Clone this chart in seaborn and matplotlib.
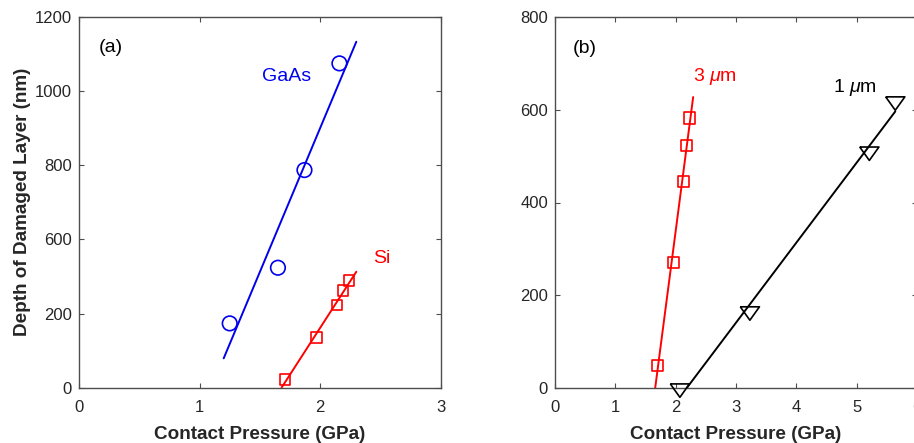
import numpy as np
import matplotlib
matplotlib.use("Agg")
import matplotlib.pyplot as plt
import seaborn as sns

# ---------------- data ----------------
# panel (a)
gaas_pressure = [1.25, 1.65, 1.87, 2.16]
gaas_depth = [208, 388, 704, 1049]
gaas_fit_pressure = [1.20, 2.30]
gaas_fit_depth = [95, 1119]

si_pressure = [1.71, 1.97, 2.14, 2.19, 2.24]
si_depth = [27, 162, 268, 314, 346]
si_fit_pressure = [1.68, 2.30]
si_fit_depth = [0, 375]

a_ytick_labels = ["0", "200", "600", "800", "1000", "1200"]
a_xtick_labels = ["0", "1", "2", "3"]

# panel (b)
um3_pressure = [1.70, 1.97, 2.13, 2.18, 2.23]
um3_depth = [49, 271, 445, 523, 582]
um3_fit_pressure = [1.66, 2.29]
um3_fit_depth = [0, 627]

um1_pressure = [2.07, 3.23, 5.21, 5.64]
um1_depth = [-5, 161, 505, 613]
um1_fit_pressure = [2.18, 5.64]
um1_fit_depth = [0, 596]

b_ytick_labels = ["0", "200", "400", "600", "800"]
b_xtick_labels = ["0", "1", "2", "3", "4", "5", "6"]

# ---------------- style ----------------
sns.set_theme(style="ticks")
plt.rcParams["font.family"] = ["Liberation Sans", "DejaVu Sans"]
plt.rcParams["mathtext.fontset"] = "custom"
plt.rcParams["mathtext.it"] = "Liberation Sans:italic"
plt.rcParams["mathtext.rm"] = "Liberation Sans"

AX_COLOR = "#262626"
SPINE_COLOR = "#4d4d4d"
BLUE = "#0000ee"
RED = "#ff0000"

fig = plt.figure(figsize=(9.14, 4.43), dpi=100)
ax_a = fig.add_axes([79 / 914, 1 - 387.7 / 443, 361.7 / 914, 371 / 443])
ax_b = fig.add_axes([555 / 914, 1 - 388.3 / 443, 362 / 914, 371.6 / 443])

tri = [(-1, 0.7), (1, 0.7), (0, -0.7), (-1, 0.7)]


def style_axes(ax):
    for s in ax.spines.values():
        s.set_visible(True)
        s.set_color(SPINE_COLOR)
        s.set_linewidth(1.0)
    ax.tick_params(direction="in", length=3.5, width=0.8, color=SPINE_COLOR,
                   top=True, right=True, labelsize=12, labelcolor=AX_COLOR)
    ax.tick_params(axis="x", pad=8.5)
    ax.tick_params(axis="y", pad=5)


# ---------------- panel (a) ----------------
sns.lineplot(x=gaas_fit_pressure, y=gaas_fit_depth, color=BLUE, lw=1.4, ax=ax_a)
sns.scatterplot(x=gaas_pressure, y=gaas_depth, marker="o", s=10.5 ** 2,
                facecolor="none", edgecolor=BLUE, linewidth=1.2, ax=ax_a, zorder=3)
sns.lineplot(x=si_fit_pressure, y=si_fit_depth, color=RED, lw=1.4, ax=ax_a)
sns.scatterplot(x=si_pressure, y=si_depth, marker="s", s=7.6 ** 2,
                facecolor="none", edgecolor=RED, linewidth=1.2, ax=ax_a, zorder=3)

ax_a.set_xlim(0, 3)
ax_a.set_ylim(0, 1200)
ax_a.set_xticks(np.arange(len(a_xtick_labels)))
ax_a.set_xticklabels(a_xtick_labels)
ax_a.set_yticks(np.linspace(0, 1200, len(a_ytick_labels)))
ax_a.set_yticklabels(a_ytick_labels)
style_axes(ax_a)
ax_a.set_xlabel("Contact Pressure (GPa)", fontsize=13.6, fontweight="bold",
                color=AX_COLOR, labelpad=8)
ax_a.set_ylabel("Depth of Damaged Layer (nm)", fontsize=13.6, fontweight="bold",
                color=AX_COLOR, labelpad=3)
ax_a.text(0.265, 1101, "(a)", fontsize=14, color="black", ha="center", va="center")
ax_a.text(1.72, 1008, "GaAs", fontsize=14, color=BLUE, ha="center", va="center")
ax_a.text(2.51, 418, "Si", fontsize=14, color=RED, ha="center", va="center")

# ---------------- panel (b) ----------------
sns.lineplot(x=um3_fit_pressure, y=um3_fit_depth, color=RED, lw=1.4, ax=ax_b)
sns.scatterplot(x=um3_pressure, y=um3_depth, marker="s", s=8 ** 2,
                facecolor="none", edgecolor=RED, linewidth=1.2, ax=ax_b, zorder=3)
sns.lineplot(x=um1_fit_pressure, y=um1_fit_depth, color="black", lw=1.4, ax=ax_b)
sns.scatterplot(x=um1_pressure, y=um1_depth, marker=tri, s=13.8 ** 2,
                facecolor="none", edgecolor="black", linewidth=1.2, ax=ax_b, zorder=3,
                clip_on=False)

ax_b.set_xlim(0, 6)
ax_b.set_ylim(0, 800)
ax_b.set_xticks(np.arange(len(b_xtick_labels)))
ax_b.set_xticklabels(b_xtick_labels)
ax_b.set_yticks(np.linspace(0, 800, len(b_ytick_labels)))
ax_b.set_yticklabels(b_ytick_labels)
style_axes(ax_b)
ax_b.set_xlabel("Contact Pressure (GPa)", fontsize=13.6, fontweight="bold",
                color=AX_COLOR, labelpad=8)
ax_b.set_ylabel("")
ax_b.text(0.486, 732, "(b)", fontsize=14, color="black", ha="center", va="center")
ax_b.text(2.65, 671, r"3 $\mu$m", fontsize=14, color=RED, ha="center", va="center")
ax_b.text(4.975, 648, r"1 $\mu$m", fontsize=14, color="black", ha="center", va="center")

fig.savefig("out.png", dpi=100)
